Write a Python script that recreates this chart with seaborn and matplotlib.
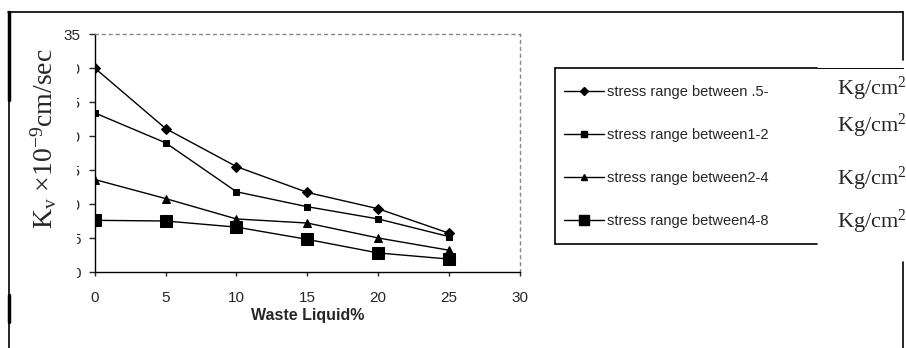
import matplotlib
matplotlib.use('Agg')
import matplotlib.pyplot as plt
from matplotlib.lines import Line2D
from matplotlib.patches import Rectangle
import numpy as np
import pandas as pd
import seaborn as sns

# values
waste = [0, 5, 10, 15, 20, 25]
kv_05_1 = [30.0, 21.1, 15.5, 11.7, 9.3, 5.7]
kv_1_2 = [23.4, 19.0, 11.8, 9.6, 7.8, 5.2]
kv_2_4 = [13.6, 10.8, 7.8, 7.2, 5.0, 3.2]
kv_4_8 = [7.6, 7.5, 6.6, 4.8, 2.8, 1.9]
labels = ['stress range between .5-', 'stress range between1-2',
          'stress range between2-4', 'stress range between4-8']
x_ticks = [0, 5, 10, 15, 20, 25, 30]
y_ticks = [0, 5, 10, 15, 20, 25, 30, 35]

sns.set_style('white')
plt.rcParams['font.family'] = ['Liberation Sans', 'DejaVu Sans']
plt.rcParams['mathtext.fontset'] = 'custom'
plt.rcParams['mathtext.rm'] = 'Liberation Serif'
plt.rcParams['mathtext.it'] = 'Liberation Serif:italic'

W, H = 906, 348
fig = plt.figure(figsize=(W / 100, H / 100), dpi=100)
ax = fig.add_axes([94.7 / W, 1 - 272 / H, (520 - 94.7) / W, (272 - 34) / H])

series = [kv_05_1, kv_1_2, kv_2_4, kv_4_8]
markers = ['D', 's', '^', 's']
msizes = [5, 5, 6, 8.5]
handles = []
for vals, m, ms, lab in zip(series, markers, msizes, labels):
    df = pd.DataFrame({'waste': waste, 'kv': vals})
    sns.lineplot(data=df, x='waste', y='kv', ax=ax, color='black', lw=1,
                 marker=m, markersize=ms, markeredgecolor='black', legend=False)
    handles.append(Line2D([], [], color='black', lw=1, marker=m,
                          markersize=ms * 0.8, label=lab))

ax.set_xlim(0, 30)
ax.set_ylim(0, 35)
ax.set_xticks(x_ticks)
ax.set_yticks(y_ticks)
ax.tick_params(axis='y', labelsize=11, length=4.3, width=1, direction='out',
               left=True, pad=6)
ax.tick_params(axis='x', labelsize=11, length=3, width=1, direction='out',
               bottom=True, pad=11)
ax.set_xlabel('Waste Liquid%', fontsize=11.5, fontweight='bold', labelpad=2)
ax.set_ylabel('')
for s in ['left', 'bottom']:
    ax.spines[s].set_color('black')
    ax.spines[s].set_linewidth(1)
for s in ['top', 'right']:
    ax.spines[s].set_color('#888888')
    ax.spines[s].set_linestyle((0, (2, 3)))
    ax.spines[s].set_linewidth(1)

# white block that hides the first digits of the tick labels, like the reference
fig.add_artist(Rectangle((14 / W, 1 - 285 / H), (77 - 14) / W, (285 - 46) / H,
                         transform=fig.transFigure, facecolor='white',
                         edgecolor='none', zorder=5))
fig.text(44 / W, 1 - 139 / H, r'K$_\mathrm{v}$ ×10$^{-9}$cm/sec', rotation=90,
         ha='center', va='center', fontsize=20, family='Liberation Serif', zorder=6)

# legend
leg = fig.legend(handles=handles, loc='upper left',
                 bbox_to_anchor=(564 / W, 1 - 85 / H), frameon=False,
                 fontsize=10.5, handlelength=2.75, handletextpad=0.2,
                 labelspacing=2.0, borderaxespad=0, borderpad=0)
kg_y = [89, 126, 179, 222]
for y in kg_y:
    fig.text(837 / W, 1 - y / H, 'Kg/cm$^{2}$', ha='left',
             va='center', fontsize=16, family='Liberation Serif')

# legend frame (open on the right) and outer frame
frame = [([555, 555], [68, 244], 1.2), ([555, 817], [68, 68], 1.2),
         ([817, 903], [68, 68], 0.7), ([555, 817], [244, 244], 1.2),
         ([8, 903], [12, 12], 1.2), ([9, 9], [12, 348], 1.2),
         ([9, 9], [12, 100], 2.5), ([9, 9], [295, 322], 2.5),
         ([903, 903], [12, 60], 1.2), ([903, 903], [262, 348], 1.2)]
for xs, ys, lw in frame:
    fig.add_artist(Line2D([x / W for x in xs], [1 - y / H for y in ys],
                          transform=fig.transFigure, color='black', lw=lw))

fig.savefig('out.png', dpi=100)
